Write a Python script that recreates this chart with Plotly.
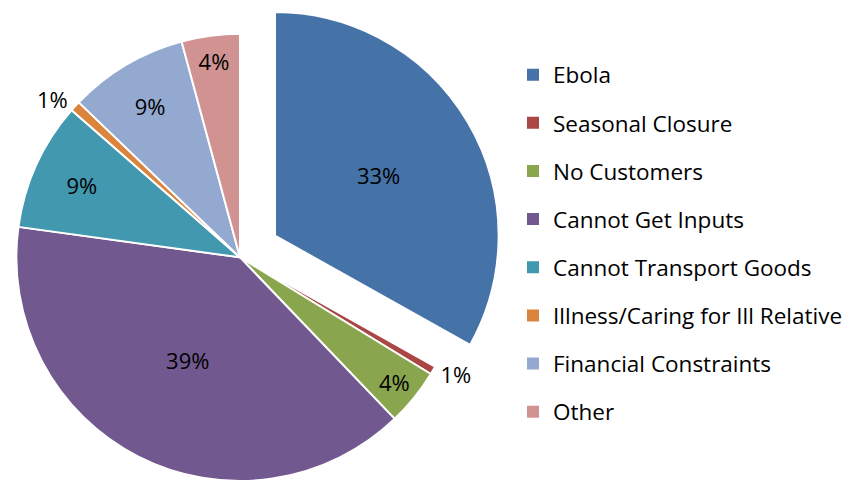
import plotly.graph_objects as go

labels = ["Ebola", "Seasonal Closure", "No Customers", "Cannot Get Inputs",
          "Cannot Transport Goods", "Illness/Caring for Ill Relative",
          "Financial Constraints", "Other"]
shares = [33.1, 0.6, 4.1, 39.3, 9.25, 0.75, 8.6, 4.2]
colors = ["#4572A7", "#AA4643", "#89A54E", "#71588F",
          "#4198AF", "#DB843D", "#93A9CF", "#D19392"]
text_pos = ["inside", "outside", "inside", "inside", "inside", "outside", "inside", "inside"]

# page body has an 8px margin, so positions are given in figure px (page px - 8)
W, H = 846, 478
FONT = "Open Sans"
CLEAR = "rgba(0,0,0,0)"
PCT = "%{percent:.0%}"

R = 226
cx, cy = 232, 252      # main pie centre (figure px)
ex, ey = 267, 230      # exploded Ebola slice centre


def dom(x0, y0):
    y_lo = max(0, (H - y0 - R) / H)
    return dict(x=[(x0 - R) / W, (x0 + R) / W], y=[y_lo, y_lo + 2 * R / H])


n = len(labels)
fig = go.Figure()

# main pie, Ebola slice left empty
fig.add_trace(go.Pie(
    labels=labels, values=shares, sort=False, direction="clockwise", rotation=0,
    marker=dict(colors=[CLEAR] + colors[1:], line=dict(color=[CLEAR] + ["white"] * (n - 1), width=2)),
    texttemplate=[""] + [PCT] * (n - 1), textposition=text_pos,
    insidetextorientation="horizontal",
    textfont=dict(family=FONT, size=22, color="black"),
    domain=dom(cx, cy),
    showlegend=False, hoverinfo="label+percent",
))

# exploded Ebola slice
fig.add_trace(go.Pie(
    labels=labels, values=shares, sort=False, direction="clockwise", rotation=0,
    marker=dict(colors=[colors[0]] + [CLEAR] * (n - 1), line=dict(color=["white"] + [CLEAR] * (n - 1), width=2)),
    texttemplate=[PCT] + [""] * (n - 1), textposition="inside",
    insidetextorientation="horizontal",
    textfont=dict(family=FONT, size=22, color="black"),
    domain=dom(ex, ey),
    showlegend=False, hoverinfo="skip",
))

# legend entries
for i, (lab, col) in enumerate(zip(labels, colors)):
    fig.add_trace(go.Scatter(
        x=[None], y=[None], mode="markers", name=lab, legendgroup=str(i),
        marker=dict(symbol="square", size=13, color=col),
    ))

fig.update_layout(
    width=W, height=H,
    margin=dict(l=0, r=0, t=0, b=0),
    paper_bgcolor="white", plot_bgcolor="white",
    xaxis=dict(visible=False), yaxis=dict(visible=False),
    legend=dict(
        x=505 / W, y=1 - 46 / H, xanchor="left", yanchor="top",
        font=dict(family=FONT, size=22.5, color="black"),
        tracegroupgap=15.9, itemsizing="constant",
        bgcolor="rgba(0,0,0,0)",
    ),
)

fig.write_html("out.html")
